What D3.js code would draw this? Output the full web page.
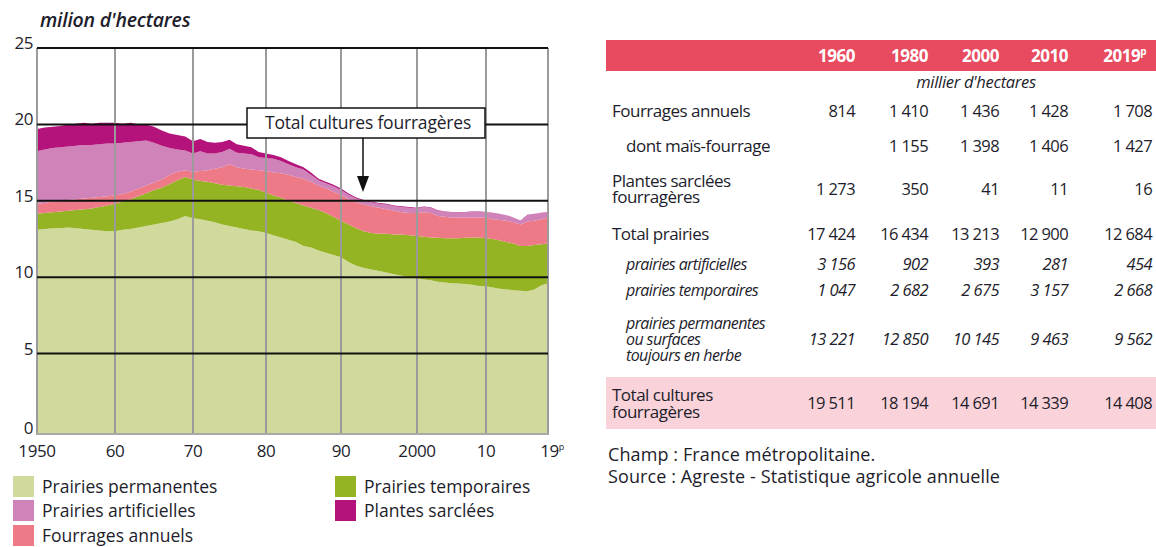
<!DOCTYPE html>
<html><head><meta charset="utf-8">
<script src="https://cdn.jsdelivr.net/npm/d3@7"></script>
<style>
html,body{margin:0;padding:0;background:#fff;}
svg{display:block;font-family:"Open Sans",sans-serif;}
</style></head>
<body>
<svg id="c" width="1156" height="547"></svg>
<script>
// ---------- DATA (million hectares) ----------
const years = d3.range(1950, 2020);
const permanentes = [
 13.1,13.15,13.2,13.2,13.25,13.2,13.15,13.1,13.05,13.0,
 13.0,13.1,13.15,13.25,13.35,13.45,13.55,13.65,13.8,14.0,
 13.85,13.8,13.7,13.6,13.45,13.35,13.25,13.15,13.05,13.0,
 12.9,12.75,12.6,12.45,12.3,12.05,11.95,11.75,11.6,11.45,
 11.3,11.0,10.75,10.6,10.5,10.4,10.3,10.2,10.1,10.0,
 9.95,9.85,9.8,9.7,9.65,9.6,9.58,9.55,9.5,9.43,
 9.4,9.33,9.25,9.2,9.15,9.12,9.08,9.2,9.45,9.6];
const temporaires = [
 1.05,1.05,1.05,1.1,1.1,1.2,1.3,1.4,1.55,1.7,
 1.8,1.85,1.95,2.05,2.15,2.25,2.3,2.45,2.55,2.55,
 2.55,2.5,2.55,2.55,2.6,2.65,2.7,2.75,2.75,2.7,
 2.65,2.6,2.6,2.55,2.55,2.65,2.6,2.65,2.6,2.5,
 2.4,2.45,2.45,2.4,2.4,2.45,2.55,2.6,2.7,2.75,
 2.75,2.8,2.8,2.88,2.9,2.95,2.97,3.03,3.1,3.17,
 3.15,3.17,3.15,3.1,3.05,2.93,2.97,2.9,2.7,2.6];
const annuels = [
 0.65,0.65,0.7,0.7,0.7,0.7,0.7,0.7,0.65,0.6,
 0.55,0.5,0.5,0.5,0.5,0.5,0.55,0.6,0.55,0.45,
 0.5,0.65,0.75,0.95,1.15,1.4,1.25,1.2,1.25,1.3,
 1.4,1.5,1.6,1.7,1.7,1.75,1.7,1.6,1.6,1.65,
 1.7,1.65,1.7,1.75,1.75,1.7,1.6,1.55,1.45,1.45,
 1.5,1.6,1.6,1.42,1.4,1.35,1.35,1.32,1.3,1.3,
 1.35,1.3,1.35,1.4,1.4,1.4,1.6,1.6,1.65,1.7];
const artificielles = [
 3.45,3.5,3.5,3.5,3.5,3.5,3.5,3.45,3.45,3.45,
 3.4,3.35,3.25,3.1,2.95,2.6,2.2,1.75,1.45,1.3,
 1.2,1.3,1.1,1.0,1.0,1.0,0.95,1.0,1.0,0.85,
 0.85,0.9,0.8,0.7,0.65,0.6,0.45,0.35,0.35,0.35,
 0.3,0.3,0.25,0.25,0.25,0.25,0.3,0.3,0.35,0.35,
 0.3,0.35,0.35,0.35,0.35,0.35,0.35,0.35,0.4,0.4,
 0.35,0.4,0.4,0.35,0.3,0.25,0.45,0.45,0.4,0.35];
const sarclees = [
 1.45,1.45,1.4,1.4,1.45,1.45,1.45,1.4,1.4,1.35,
 1.35,1.25,1.25,1.1,1.05,1.05,1.0,0.95,0.95,0.9,
 0.8,0.8,0.75,0.7,0.65,0.6,0.55,0.5,0.45,0.35,
 0.3,0.25,0.25,0.2,0.2,0.15,0.15,0.1,0.1,0.1,
 0.1,0.08,0.07,0.06,0.06,0.05,0.05,0.05,0.05,0.04,
 0.04,0.03,0.03,0.03,0.02,0.02,0.02,0.02,0.02,0.01,
 0.01,0.01,0.01,0.01,0.01,0.01,0.01,0.01,0.02,0.02];

const seriesKeys = ["permanentes","temporaires","annuels","artificielles","sarclees"];
const seriesLabels = ["Prairies permanentes","Prairies temporaires","Fourrages annuels","Prairies artificielles","Plantes sarclées"];
const seriesColors = ["#d1da9c","#95b424","#ee7987","#cf83b8","#b3137b"];

const yTicks = [0,5,10,15,20,25];
const xTickYears = [1950,1960,1970,1980,1990,2000,2010,2019];
const xTickLabels = ["1950","60","70","80","90","2000","10","19"];

// table data (thousand hectares)
const tableYears = ["1960","1980","2000","2010","2019"];
const tFourragesAnnuels = [814,1410,1436,1428,1708];
const tMaisFourrage = [null,1155,1398,1406,1427];
const tPlantesSarclees = [1273,350,41,11,16];
const tTotalPrairies = [17424,16434,13213,12900,12684];
const tPrairiesArtificielles = [3156,902,393,281,454];
const tPrairiesTemporaires = [1047,2682,2675,3157,2668];
const tPrairiesPermanentes = [13221,12850,10145,9463,9562];
const tTotalCultures = [19511,18194,14691,14339,14408];

// ---------- CHART ----------
const svg = d3.select("#c");
svg.append("rect").attr("width",1156).attr("height",547).attr("fill","#fff");

const x = d3.scaleLinear()
  .domain([1950,1960,1970,1980,1990,2000,2010,2019])
  .range([37,115,193,266,341,417,486,548]);
const y = d3.scaleLinear().domain([0,25]).range([430,48]);
const plotBottom = 434;

const rows = years.map((yr,i)=>({year:yr, permanentes:permanentes[i], temporaires:temporaires[i],
  annuels:annuels[i], artificielles:artificielles[i], sarclees:sarclees[i]}));
const stacked = d3.stack().keys(seriesKeys)(rows);

const area = d3.area()
  .x(d=>x(d.data.year))
  .y0(d=>d[0]===0 ? plotBottom : y(d[0]))
  .y1(d=>y(d[1]));

svg.append("g").selectAll("path").data(stacked).join("path")
  .attr("d",area).attr("fill",(d,i)=>seriesColors[i]);

// vertical grid (grey)
svg.append("g").selectAll("line").data(xTickYears).join("line")
  .attr("x1",d=>x(d)).attr("x2",d=>x(d)).attr("y1",y(25)).attr("y2",plotBottom)
  .attr("stroke","#9b9b9b").attr("stroke-width",2);
svg.append("line").attr("x1",x(1950)-1).attr("x2",x(2019)+1).attr("y1",plotBottom).attr("y2",plotBottom)
  .attr("stroke","#a8a8a8").attr("stroke-width",2);
// horizontal grid (black)
svg.append("g").selectAll("line").data(yTicks.filter(v=>v>0)).join("line")
  .attr("x1",x(1950)).attr("x2",x(2019)).attr("y1",d=>y(d)).attr("y2",d=>y(d))
  .attr("stroke","#111").attr("stroke-width",2);

// y labels
svg.append("g").selectAll("text").data(yTicks).join("text")
  .attr("x",33).attr("y",d=>d===0?plotBottom:y(d)+1).attr("text-anchor","end")
  .attr("font-size",17).attr("letter-spacing",-0.5).attr("fill","#1d1d2b").text(d=>d);
// x labels
const xl = svg.append("g").selectAll("text").data(xTickYears).join("text")
  .attr("x",(d,i)=>x(d)+(i===7?4:0)).attr("y",457).attr("text-anchor","middle")
  .attr("font-size",17).attr("letter-spacing",-0.4).attr("fill","#1d1d2b");
xl.append("tspan").text((d,i)=>xTickLabels[i]);
xl.filter((d,i)=>i===7).append("tspan").attr("font-size",9).attr("dy",-7).text("p");

// title
svg.append("text").attr("x",40).attr("y",27).attr("font-size",19.5).attr("font-style","italic")
  .attr("font-weight",600).attr("letter-spacing",-0.2)
  .attr("fill","#1d1d2b").text("milion d'hectares");

// annotation
svg.append("rect").attr("x",247).attr("y",108).attr("width",238).attr("height",30)
  .attr("fill","#fff").attr("stroke","#111").attr("stroke-width",1.5);
svg.append("text").attr("x",368).attr("y",129).attr("text-anchor","middle").attr("font-size",17.5)
  .attr("letter-spacing",-0.2).attr("fill","#1d1d2b").text("Total cultures fourragères");
svg.append("line").attr("x1",363).attr("x2",363).attr("y1",138).attr("y2",178)
  .attr("stroke","#111").attr("stroke-width",1.5);
svg.append("path").attr("d","M357,176 L369,176 L363,192 Z").attr("fill","#111");

// legend
const legendPos = [[13,476],[335,476],[13,525],[13,500],[335,500]];
const lg = svg.append("g").selectAll("g").data(seriesKeys).join("g")
  .attr("transform",(d,i)=>`translate(${legendPos[i][0]},${legendPos[i][1]})`);
lg.append("rect").attr("width",21).attr("height",21).attr("fill",(d,i)=>seriesColors[i]);
lg.append("text").attr("x",29).attr("y",17).attr("font-size",17.5).attr("fill","#1d1d2b")
  .text((d,i)=>seriesLabels[i]);

// ---------- TABLE ----------
const fmt = d3.formatLocale({decimal:",",thousands:" ",grouping:[3],currency:["",""]}).format(",d");
const colX = [855,928,999,1068,1152];
const tb = svg.append("g");
tb.append("rect").attr("x",606).attr("y",40).attr("width",550).attr("height",31).attr("fill","#e84a60");
tb.append("rect").attr("x",606).attr("y",377).attr("width",550).attr("height",52).attr("fill","#fad2d9");
const hd = tb.append("g").selectAll("text").data(tableYears).join("text")
  .attr("x",(d,i)=>colX[i]-(i===4?6:0)).attr("y",62).attr("text-anchor","end")
  .attr("font-size",17).attr("font-weight","bold").attr("fill","#fff").attr("letter-spacing",-0.5);
hd.append("tspan").text(d=>d);
hd.filter((d,i)=>i===4).append("tspan").attr("font-size",10).attr("dy",-7).text("p");
tb.append("text").attr("x",976).attr("y",88).attr("text-anchor","middle").attr("font-size",16.5)
  .attr("font-style","italic").attr("fill","#1d1d2b").attr("letter-spacing",-0.3).text("millier d'hectares");

const tableRows = [
  {lines:["Fourrages annuels"], vals:tFourragesAnnuels, y:112},
  {lines:["dont maïs-fourrage"], vals:tMaisFourrage, y:147, indent:true},
  {lines:["Plantes sarclées","fourragères"], vals:tPlantesSarclees, y:190},
  {lines:["Total prairies"], vals:tTotalPrairies, y:235},
  {lines:["prairies artificielles"], vals:tPrairiesArtificielles, y:265, indent:true, italic:true},
  {lines:["prairies temporaires"], vals:tPrairiesTemporaires, y:291, indent:true, italic:true},
  {lines:["prairies permanentes","ou surfaces","toujours en herbe"], vals:tPrairiesPermanentes, y:340, indent:true, italic:true},
  {lines:["Total cultures","fourragères"], vals:tTotalCultures, y:404, lh:17}
];
tableRows.forEach(r=>{
  const lh = r.lh || 16;
  const n = r.lines.length;
  r.lines.forEach((ln,k)=>{
    tb.append("text").attr("x", r.indent ? 626 : 612)
      .attr("y", r.y + 5 + (k-(n-1)/2)*lh)
      .attr("font-size", r.italic ? 16 : 17)
      .attr("font-style", r.italic ? "italic" : "normal")
      .attr("letter-spacing", r.italic ? -0.6 : -0.5)
      .attr("fill","#1d1d2b").text(ln);
  });
  r.vals.forEach((v,i)=>{
    if(v==null) return;
    tb.append("text").attr("x",colX[i]).attr("y",r.y+5).attr("text-anchor","end")
      .attr("font-size", r.italic ? 16.5 : 16.5)
      .attr("font-style", r.italic ? "italic" : "normal")
      .attr("letter-spacing",-0.6)
      .attr("fill","#1d1d2b").text(fmt(v));
  });
});
tb.append("text").attr("x",608).attr("y",461).attr("font-size",18).attr("letter-spacing",0.1).attr("fill","#1d1d2b")
  .text("Champ : France métropolitaine.");
tb.append("text").attr("x",608).attr("y",483).attr("font-size",18).attr("letter-spacing",0.1).attr("fill","#1d1d2b")
  .text("Source : Agreste - Statistique agricole annuelle");
</script>
</body></html>
